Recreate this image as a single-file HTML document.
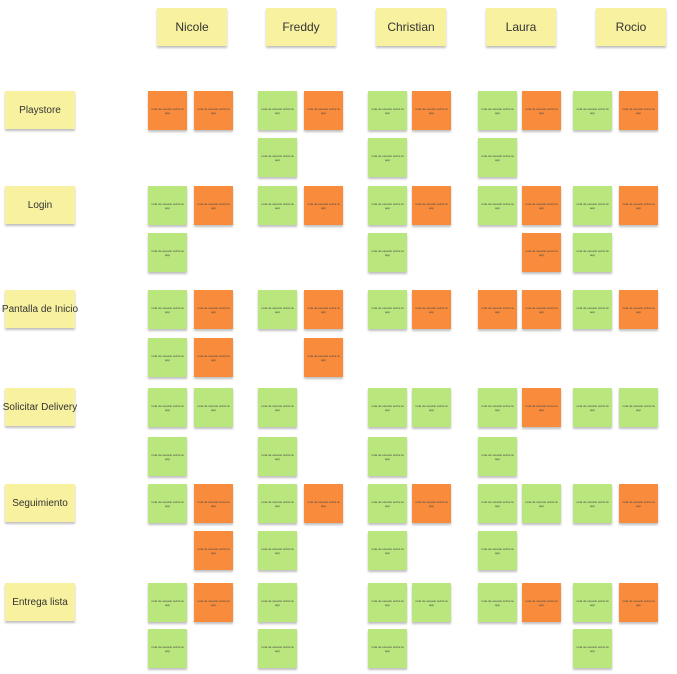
<!DOCTYPE html>
<html><head><meta charset="utf-8"><style>
body{margin:0;width:677px;height:674px;background:#fff;position:relative;overflow:hidden;font-family:"Liberation Sans",sans-serif}
.n{position:absolute;width:39px;height:39px;box-shadow:0 2px 2px rgba(0,0,0,.25);font-size:3px;line-height:4px;color:#444;text-align:center;display:flex;align-items:center;justify-content:center;padding:3px;box-sizing:border-box}
.g{background:#b9e77e}.o{background:#f98c3c}
.h{position:absolute;background:#f8f2a0;box-shadow:0 2px 2px rgba(0,0,0,.25);display:flex;align-items:center;justify-content:center;font-size:12px;color:#333;white-space:nowrap}
</style></head><body>
<script>
const people=["Nicole","Freddy","Christian","Laura","Rocio"];
const peopleX=[148,258,368,478,573];
const peopleX2=[194,304,412,522,619];
const headerX=[157,266,376,486,596];
const rows=["Playstore","Login","Pantalla de Inicio","Solicitar Delivery","Seguimiento","Entrega lista"];
const rowY=[91,186,290,388,484,583];
const rowY2=[138,233,338,437,531,629];
const cells=[
 [["o","o","",""],["g","o","g",""],["g","o","g",""],["g","o","g",""],["g","o","",""]],
 [["g","o","g",""],["g","o","",""],["g","o","g",""],["g","o","","o"],["g","o","g",""]],
 [["g","o","g","o"],["g","o","","o"],["g","o","",""],["o","o","",""],["g","o","",""]],
 [["g","g","g",""],["g","","g",""],["g","g","g",""],["g","o","g",""],["g","g","",""]],
 [["g","o","","o"],["g","o","g",""],["g","o","g",""],["g","g","g",""],["g","o","",""]],
 [["g","o","g",""],["g","","g",""],["g","g","g",""],["g","o","",""],["g","o","g",""]]
];
const b=document.body;
people.forEach((p,i)=>{
 const d=document.createElement('div');d.className='h';
 d.style.cssText=`left:${headerX[i]}px;top:8px;width:70px;height:38px`;
 d.textContent=p;
 
 
 b.appendChild(d);
});
rows.forEach((r,ri)=>{
 const d=document.createElement('div');d.className='h';
 d.style.cssText=`left:5px;top:${rowY[ri]}px;width:70px;height:38px;font-size:10px`;
 d.textContent=r;
 
 
 b.appendChild(d);
 cells[ri].forEach((c,pi)=>{
  c.forEach((col,k)=>{
   if(!col)return;
   const n=document.createElement('div');n.className='n '+col;
   const x=(k%2===0)?peopleX[pi]:peopleX2[pi];
   const y=(k<2)?rowY[ri]:rowY2[ri];
   n.style.left=x+'px';n.style.top=y+'px';
   n.textContent='nota de usuario sobre la app';
   
   
   b.appendChild(n);
  });
 });
});
</script>
</body></html>
